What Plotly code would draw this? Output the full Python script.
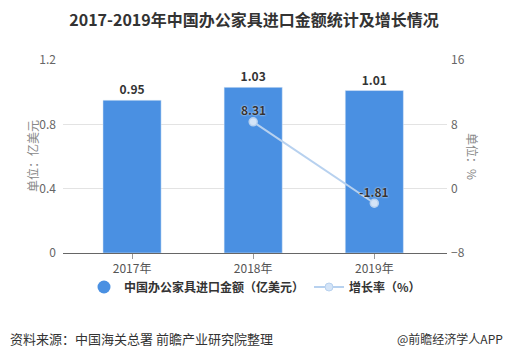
import plotly.graph_objects as go

years = ["2017年", "2018年", "2019年"]
amount = [0.95, 1.03, 1.01]
growth_years = ["2018年", "2019年"]
growth = [8.31, -1.81]
amount_labels = ["0.95", "1.03", "1.01"]
growth_labels = ["8.31", "-1.81"]
left_ticks = [0, 0.4, 0.8, 1.2]
right_ticks = [-8, 0, 8, 16]

BAR_COLOR = "#4a90e2"
LINE_COLOR = "#b7d1ef"
FONT = "Noto Sans CJK SC"

fig = go.Figure()
fig.add_trace(go.Bar(
    x=years, y=amount, width=0.48, marker_color=BAR_COLOR,
    text=amount_labels, textposition="outside", cliponaxis=False,
    textfont=dict(family=FONT, size=12, color="#333333", weight="bold"),
    showlegend=False, hoverinfo="skip"))
fig.add_trace(go.Scatter(
    x=growth_years, y=growth, yaxis="y2", mode="lines+markers",
    line=dict(color=LINE_COLOR, width=2),
    marker=dict(size=8, color="#d4e4f7", line=dict(color=LINE_COLOR, width=1.5)),
    cliponaxis=False, showlegend=False))
for xv, yv, lab in zip(growth_years, growth, growth_labels):
    fig.add_annotation(x=xv, y=yv, xref="x", yref="y2", text=lab, showarrow=False,
                       yshift=12,
                       font=dict(family=FONT, size=12, color="#333333", weight="bold",
                                 shadow="0px 0px 2px white"))
# legend entries
fig.add_trace(go.Scatter(
    x=[None], y=[None], mode="markers", name="中国办公家具进口金额（亿美元）",
    marker=dict(symbol="circle", size=13, color=BAR_COLOR)))
fig.add_trace(go.Scatter(
    x=[None], y=[None], mode="lines+markers", name="增长率（%）", yaxis="y2",
    line=dict(color=LINE_COLOR, width=2),
    marker=dict(size=8, color="#d4e4f7", line=dict(color=LINE_COLOR, width=1))))

fig.update_layout(
    width=508, height=355,
    margin=dict(l=63, r=61, t=60, b=102),
    paper_bgcolor="white", plot_bgcolor="white",
    font=dict(family=FONT, size=12, color="#666666"),
    title=dict(text="<b>2017-2019年中国办公家具进口金额统计及增长情况</b>",
               x=0.5, xanchor="center", y=1 - 20 / 355, yanchor="middle",
               font=dict(family=FONT, size=16, color="#333333")),
    xaxis=dict(type="category", range=[-0.57, 2.6], showgrid=False,
               showline=True, linecolor="#666666", linewidth=1,
               ticks="outside", ticklen=5, tickcolor="#999999",
               tickfont=dict(size=12, color="#555555")),
    yaxis=dict(range=[0, 1.2], tickvals=left_ticks, ticktext=["0", "0.4", "0.8", "1.2"],
               showgrid=True, gridcolor="#e3e3e3", gridwidth=1, zeroline=False,
               showline=False, ticklabelstandoff=6,
               tickfont=dict(size=12, color="#666666")),
    yaxis2=dict(range=[-8, 16], tickvals=right_ticks, overlaying="y", side="right",
                showgrid=False, zeroline=False, showline=False, ticklabelstandoff=3,
                tickfont=dict(size=12, color="#666666")),
    legend=dict(orientation="h", x=0.5, xanchor="center", y=-34 / 193, yanchor="middle",
                bgcolor="rgba(0,0,0,0)",
                font=dict(family=FONT, size=12, color="#333333", weight="bold"),
                itemwidth=30, tracegroupgap=0),
    bargap=0.5,
)

fig.add_annotation(text="单位：亿美元", xref="paper", yref="paper",
                   x=(22 - 63) / 384, y=0.5, textangle=-90, showarrow=False,
                   font=dict(size=12, color="#888888"))
fig.add_annotation(text="单位：%", xref="paper", yref="paper",
                   x=(483 - 63) / 384, y=0.5, textangle=90, showarrow=False,
                   font=dict(size=12, color="#888888"))
fig.add_annotation(text="资料来源：中国海关总署 前瞻产业研究院整理", xref="paper", yref="paper",
                   x=(8 - 63) / 384, xanchor="left", y=-(338 - 253) / 193, yanchor="middle",
                   showarrow=False, font=dict(size=13, color="#333333"))
fig.add_annotation(text="@前瞻经济学人APP", xref="paper", yref="paper",
                   x=(505 - 63) / 384, xanchor="right", y=-(338 - 253) / 193, yanchor="middle",
                   showarrow=False, font=dict(size=12, color="#333333"))

fig.write_html("out.html")
